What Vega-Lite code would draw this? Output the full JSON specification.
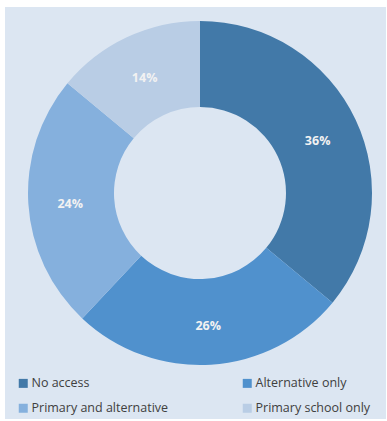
{
  "$schema": "https://vega.github.io/schema/vega-lite/v6.json",
  "width": 387,
  "height": 421,
  "autosize": {"type": "fit", "contains": "padding"},
  "padding": {"left": 5, "top": 7, "right": 1, "bottom": 2},
  "background": "white",
  "view": {"fill": "#dce6f2", "stroke": null},
  "config": {
    "view": {"fill": "#dce6f2", "stroke": null},
    "font": "Open Sans"
  },
  "data": {
    "values": [
      {"category": "No access", "value": 36, "label": "36%", "order": 1},
      {"category": "Alternative only", "value": 26, "label": "26%", "order": 2},
      {"category": "Primary and alternative", "value": 24, "label": "24%", "order": 3},
      {"category": "Primary school only", "value": 14, "label": "14%", "order": 4}
    ]
  },
  "encoding": {
    "theta": {"field": "value", "type": "quantitative", "stack": true},
    "order": {"field": "order", "type": "quantitative"}
  },
  "layer": [
    {
      "mark": {"type": "arc", "outerRadius": 172, "innerRadius": 86, "xOffset": 4.5, "yOffset": -20},
      "encoding": {
        "color": {
          "field": "category",
          "type": "nominal",
          "scale": {
            "domain": ["No access", "Alternative only", "Primary and alternative", "Primary school only"],
            "range": ["#4279a8", "#5091cd", "#85b0dd", "#b9cde5"]
          },
          "legend": {
            "orient": "none",
            "legendX": 12,
            "legendY": 370,
            "direction": "horizontal",
            "columns": 2,
            "title": null,
            "symbolType": "square",
            "symbolSize": 81,
            "symbolStrokeWidth": 0,
            "labelFontSize": 12.5,
            "labelColor": "#404040",
            "labelOffset": 2,
            "columnPadding": 72,
            "rowPadding": 12
          }
        }
      }
    },
    {
      "mark": {"type": "text", "radius": 130, "xOffset": 4.5, "yOffset": -17, "color": "#f2f2f2", "fontWeight": "bold", "fontSize": 12.5},
      "encoding": {
        "text": {"field": "label"}
      }
    }
  ]
}
